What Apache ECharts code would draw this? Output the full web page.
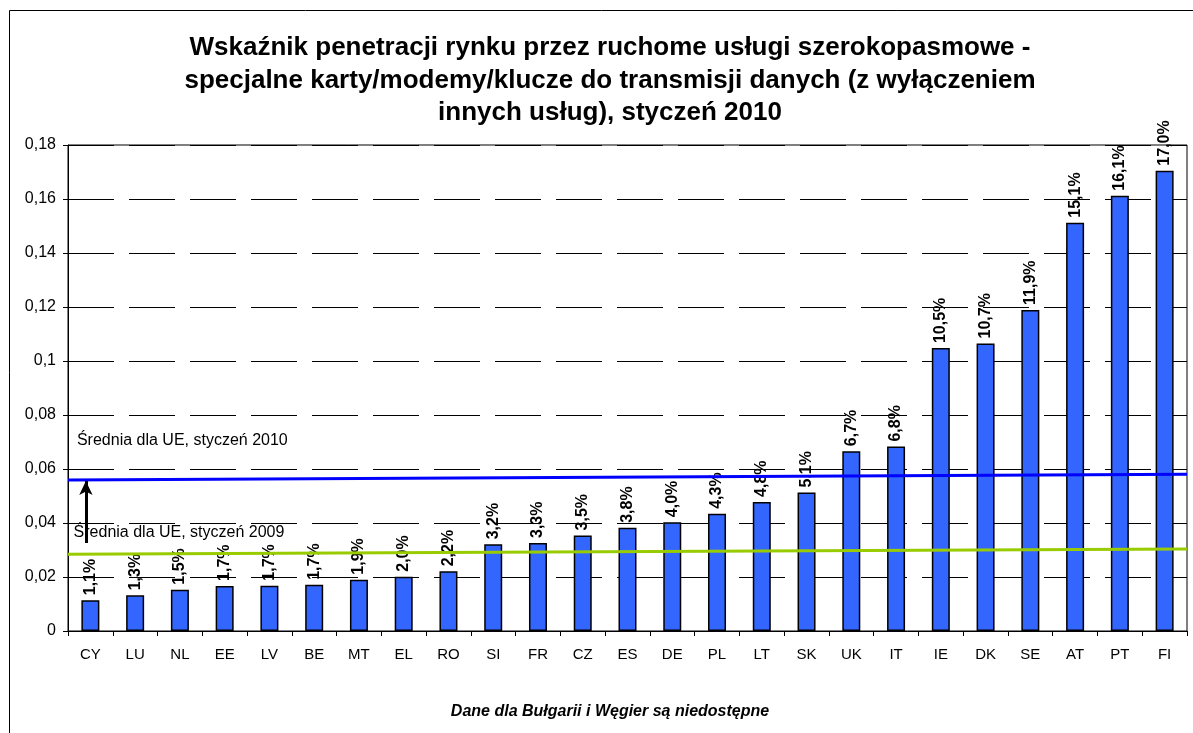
<!DOCTYPE html>
<html lang="pl">
<head>
  <meta charset="UTF-8" />
  <title>Wskaźnik penetracji rynku - styczeń 2010</title>
  <script src="https://cdn.jsdelivr.net/npm/echarts@6/dist/echarts.min.js"></script>
  <style>
    body { margin: 0; background: #fff; }
    #chart { width: 1193px; height: 733px; }
  </style>
</head>
<body>
  <div id="chart"></div>
  <script>
    // dane
    const countries = ['CY', 'LU', 'NL', 'EE', 'LV', 'BE', 'MT', 'EL', 'RO', 'SI', 'FR', 'CZ', 'ES',
      'DE', 'PL', 'LT', 'SK', 'UK', 'IT', 'IE', 'DK', 'SE', 'AT', 'PT', 'FI'];
    const penetration = [0.0114, 0.0132, 0.0153, 0.0167, 0.0168, 0.0171, 0.0190, 0.0201, 0.0221,
      0.0321, 0.0326, 0.0354, 0.0382, 0.0403, 0.0434, 0.0478, 0.0513, 0.0666, 0.0683,
      0.1048, 0.1065, 0.1189, 0.1512, 0.1612, 0.1705];
    const valueLabels = ['1,1%', '1,3%', '1,5%', '1,7%', '1,7%', '1,7%', '1,9%', '2,0%', '2,2%',
      '3,2%', '3,3%', '3,5%', '3,8%', '4,0%', '4,3%', '4,8%', '5,1%', '6,7%', '6,8%',
      '10,5%', '10,7%', '11,9%', '15,1%', '16,1%', '17,0%'];
    // linie średniej (poczatek i koniec obszaru wykresu, os 0..1)
    const avg2010 = [[0, 0.0559], [1, 0.0581]];
    const avg2009 = [[0, 0.0284], [1, 0.0304]];
    const arrowFrom = [0.016, 0.0326];
    const arrowTo = [0.016, 0.0556];
    const note2010 = { text: 'Średnia dla UE, styczeń 2010', at: [0.008, 0.0707] };
    const note2009 = { text: 'Średnia dla UE, styczeń 2009', at: [0.005, 0.0363] };
    const yTicks = { min: 0, max: 0.18, step: 0.02 };

    const titleText = 'Wskaźnik penetracji rynku przez ruchome usługi szerokopasmowe -\n' +
      'specjalne karty/modemy/klucze do transmisji danych (z wyłączeniem\n' +
      'innych usług), styczeń 2010';
    const footText = 'Dane dla Bułgarii i Węgier są niedostępne';

    const font = '"Liberation Sans", Arial, sans-serif';
    const chart = echarts.init(document.getElementById('chart'));

    const noteMark = (n) => ({
      coord: n.at,
      symbolSize: 0,
      label: {
        show: true, position: 'right', distance: 0, formatter: n.text,
        color: '#000', fontFamily: font, fontSize: 16
      }
    });

    chart.setOption({
      animation: false,
      textStyle: { fontFamily: font },
      title: [{
        text: titleText,
        left: 605, top: 27, textAlign: 'center',
        textStyle: { fontSize: 26, fontWeight: 'bold', color: '#000', lineHeight: 32.5, fontFamily: font }
      }, {
        text: footText,
        left: 605, top: 699, textAlign: 'center',
        textStyle: { fontSize: 16, fontWeight: 'bold', fontStyle: 'italic', color: '#000', fontFamily: font }
      }],
      graphic: [{
        type: 'rect',
        shape: { x: 9.5, y: 10.5, width: 1400, height: 900 },
        style: { fill: null, stroke: '#000', lineWidth: 1 },
        silent: true
      }],
      grid: {
        left: 68, right: 6, top: 145, bottom: 102,
        show: true, borderColor: '#000', borderWidth: 1, backgroundColor: 'transparent'
      },
      xAxis: [{
        type: 'category',
        data: countries,
        axisLine: { lineStyle: { color: '#000', width: 1 } },
        axisTick: { show: true, length: 5, lineStyle: { color: '#000' } },
        axisLabel: { color: '#000', fontSize: 15, margin: 16, interval: 0 }
      }, {
        type: 'value', min: 0, max: 1, show: false
      }],
      yAxis: {
        type: 'value',
        min: yTicks.min, max: yTicks.max, interval: yTicks.step,
        axisLine: { show: true, lineStyle: { color: '#000' } },
        axisTick: { show: true, length: 5, lineStyle: { color: '#000' } },
        axisLabel: {
          color: '#000', fontSize: 16, margin: 12,
          formatter: v => String(+v.toFixed(2)).replace('.', ',')
        },
        splitLine: { show: true, lineStyle: { color: '#000', width: 1, type: [46, 15] } }
      },
      series: [{
        type: 'bar',
        data: penetration,
        barWidth: 18,
        itemStyle: { color: '#3366FF', borderColor: '#000', borderWidth: 1.5 },
        label: {
          show: true, position: 'top', distance: 5, rotate: 90,
          align: 'left', verticalAlign: 'middle',
          fontSize: 16, fontWeight: 'bold', color: '#000', fontFamily: font,
          formatter: p => valueLabels[p.dataIndex]
        },
        z: 2
      }, {
        type: 'line',
        xAxisIndex: 1,
        data: avg2009,
        symbol: 'none',
        lineStyle: { color: '#99CC00', width: 3 },
        markPoint: { symbol: 'circle', data: [noteMark(note2009)] },
        z: 3
      }, {
        type: 'line',
        xAxisIndex: 1,
        data: avg2010,
        symbol: 'none',
        lineStyle: { color: '#0000FF', width: 3 },
        markPoint: { symbol: 'circle', data: [noteMark(note2010)] },
        markLine: {
          silent: true,
          symbol: ['none', 'arrow'],
          symbolSize: [10, 14],
          lineStyle: { color: '#000', width: 3, type: 'solid' },
          label: { show: false },
          data: [[{ coord: arrowFrom }, { coord: arrowTo }]]
        },
        z: 4
      }]
    });
  </script>
</body>
</html>
